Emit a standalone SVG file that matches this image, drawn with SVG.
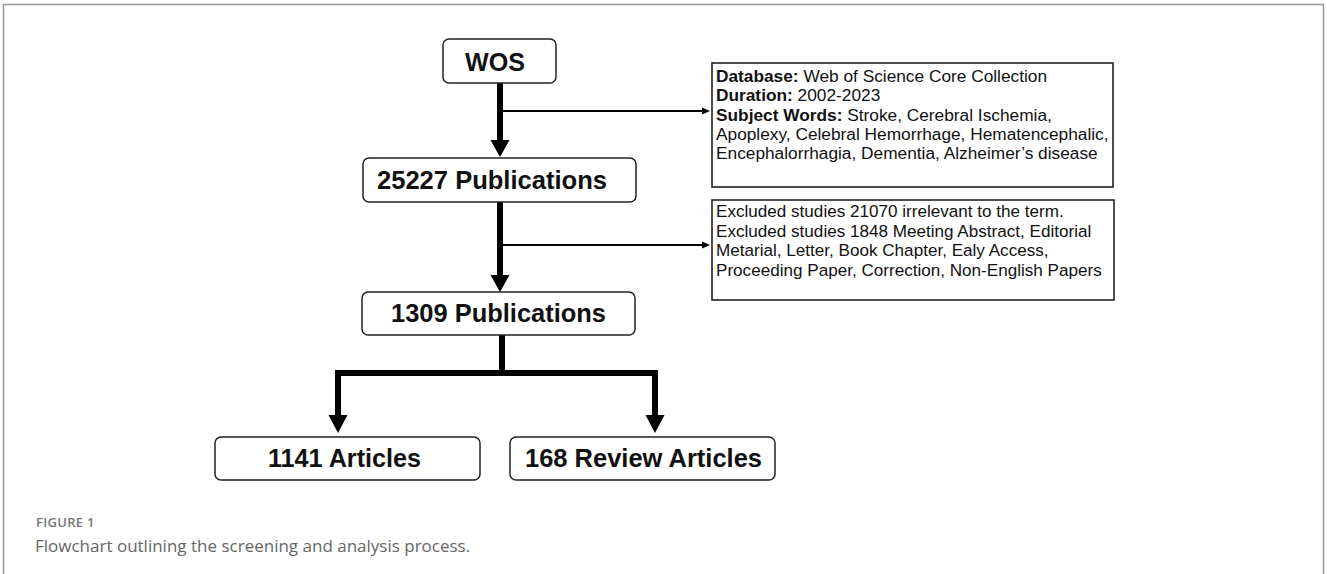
<svg xmlns="http://www.w3.org/2000/svg" width="1327" height="574" viewBox="0 0 1327 574">
<defs>
<style>
.box{fill:#fff;stroke:#222;stroke-width:1.5}
.info{fill:#fff;stroke:#222;stroke-width:1.6}
.bt{font-family:"Liberation Sans",Arial,sans-serif;font-weight:bold;font-size:26.5px;fill:#111}
.it{font-family:"Liberation Sans",Arial,sans-serif;font-size:17.3px;fill:#111}
.it2{font-family:"Liberation Sans",Arial,sans-serif;font-size:17.1px;fill:#111}
.thick{stroke:#000;stroke-width:6;fill:none}
.thin{stroke:#000;stroke-width:1.8;fill:none}
.cap1{font-family:"Open Sans",sans-serif;font-size:13px;font-weight:600;fill:#777;letter-spacing:0.3px}
.cap2{font-family:"Open Sans",sans-serif;font-size:17px;fill:#666}
</style>
</defs>
<rect x="0" y="0" width="1327" height="574" fill="#fff"/>
<path d="M3.5 574 V4.5 H1323.5 V574" fill="none" stroke="#999" stroke-width="1.5"/>

<g id="connectors">
<line class="thick" x1="500" y1="83" x2="500" y2="141"/>
<polygon points="490.5,140 509.5,140 500,157" fill="#000"/>
<line class="thin" x1="500" y1="111" x2="704" y2="111"/>
<polygon points="702,107.5 710,111 702,114.5" fill="#000"/>
<line class="thick" x1="500" y1="202" x2="500" y2="276"/>
<polygon points="490.5,275 509.5,275 500,292" fill="#000"/>
<line class="thin" x1="500" y1="245" x2="704" y2="245"/>
<polygon points="702,241.5 710,245 702,248.5" fill="#000"/>
<path class="thick" d="M502 335 V373 M338 373 H658 M338 370 V416 M655 370 V416"/>
<polygon points="328.5,415 347.5,415 338,433" fill="#000"/>
<polygon points="645.5,415 664.5,415 655,433" fill="#000"/>
</g>

<g id="wos">
<rect class="box" x="443" y="39" width="113" height="44" rx="6"/>
<text class="bt" x="465" y="71" textLength="60" lengthAdjust="spacingAndGlyphs">WOS</text>
</g>
<g id="info1">
<rect class="info" x="712" y="63" width="401" height="124"/>
<text class="it" x="716" y="82"><tspan font-weight="bold">Database:</tspan> Web of Science Core Collection</text>
<text class="it" x="716" y="101.3"><tspan font-weight="bold">Duration:</tspan> 2002-2023</text>
<text class="it" x="716" y="120.6"><tspan font-weight="bold">Subject Words:</tspan> Stroke, Cerebral Ischemia,</text>
<text class="it" x="716" y="139.9">Apoplexy, Celebral Hemorrhage, Hematencephalic,</text>
<text class="it" x="716" y="159.2">Encephalorrhagia, Dementia, Alzheimer’s disease</text>
</g>
<g id="p25227">
<rect class="box" x="363" y="158" width="273" height="44" rx="6"/>
<text class="bt" x="377" y="189" textLength="230" lengthAdjust="spacingAndGlyphs">25227 Publications</text>
</g>
<g id="info2">
<rect class="info" x="712" y="200" width="402" height="100"/>
<text class="it2" x="716" y="217">Excluded studies 21070 irrelevant to the term.</text>
<text class="it2" x="716" y="236.5">Excluded studies 1848 Meeting Abstract, Editorial</text>
<text class="it2" x="716" y="256">Metarial, Letter, Book Chapter, Ealy Access,</text>
<text class="it2" x="716" y="275.5">Proceeding Paper, Correction, Non-English Papers</text>
</g>
<g id="p1309">
<rect class="box" x="362" y="292" width="273" height="43" rx="6"/>
<text class="bt" x="391" y="322" textLength="215" lengthAdjust="spacingAndGlyphs">1309 Publications</text>
</g>
<g id="articles">
<rect class="box" x="215" y="437" width="265" height="43" rx="6"/>
<text class="bt" x="268" y="467" textLength="153" lengthAdjust="spacingAndGlyphs">1141 Articles</text>
</g>
<g id="reviews">
<rect class="box" x="510" y="437" width="265" height="43" rx="6"/>
<text class="bt" x="525" y="467" textLength="237" lengthAdjust="spacingAndGlyphs">168 Review Articles</text>
</g>

<text class="cap1" x="36" y="527">FIGURE 1</text>
<text class="cap2" x="35" y="552">Flowchart outlining the screening and analysis process.</text>
</svg>
